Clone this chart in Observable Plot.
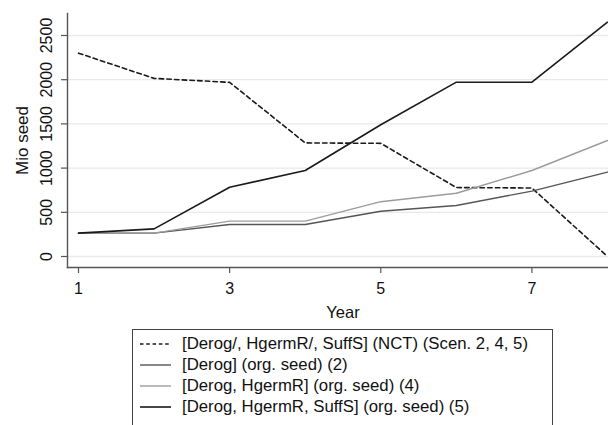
<!DOCTYPE html>
<html>
<head>
<meta charset="utf-8">
<script src="https://cdn.jsdelivr.net/npm/d3@7"></script>
<script src="https://cdn.jsdelivr.net/npm/@observablehq/plot@0.6"></script>
<style>
  html, body { margin: 0; padding: 0; background: #fff; overflow: hidden; width: 608px; height: 425px; }
  #wrap { position: relative; width: 608px; height: 425px; font-family: "Liberation Sans", Arial, sans-serif; }
  #chart svg { display: block; }
  #legend {
    position: absolute; left: 132px; top: 329px; width: 421px; height: 120px;
    border: 1px solid #444; box-sizing: border-box; padding: 3px 0 0 7px;
  }
  .row { height: 21px; display: flex; align-items: center; font-size: 16.75px; color: #111; white-space: nowrap; }
  .row svg { width: 31px; height: 10px; margin-right: 11px; flex: none; }
</style>
</head>
<body>
<div id="wrap">
  <div id="chart"></div>
  <div id="legend"></div>
</div>
<script>
const years = [1, 2, 3, 4, 5, 6, 7, 8];
const nct = [2300, 2015, 1970, 1285, 1280, 780, 775, 0];
const derog = [264, 264, 362, 362, 512, 577, 740, 955];
const derogHgerm = [264, 264, 400, 400, 620, 716, 973, 1312];
const derogHgermSuff = [264, 313, 784, 973, 1490, 1972, 1972, 2650];
const seriesLabels = [
  "[Derog/, HgermR/, SuffS] (NCT) (Scen. 2, 4, 5)",
  "[Derog] (org. seed) (2)",
  "[Derog, HgermR] (org. seed) (4)",
  "[Derog, HgermR, SuffS] (org. seed) (5)"
];
const yTicks = [0, 500, 1000, 1500, 2000, 2500];
const xTicks = [1, 3, 5, 7];
const xLabel = "Year";
const yLabel = "Mio seed";

const seriesValues = [nct, derog, derogHgerm, derogHgermSuff];
const styles = [
  {stroke: "#1a1a1a", strokeWidth: 1.6, dash: "4.5,3.2"},
  {stroke: "#555555", strokeWidth: 1.4, dash: null},
  {stroke: "#9c9c9c", strokeWidth: 1.4, dash: null},
  {stroke: "#1a1a1a", strokeWidth: 1.6, dash: null}
];

const rows = [];
seriesValues.forEach((vals, s) => {
  vals.forEach((v, i) => rows.push({series: seriesLabels[s], year: years[i], value: v}));
});

const lineMarks = seriesLabels.map((lab, s) =>
  Plot.line(rows.filter(d => d.series === lab), {
    x: "year", y: "value",
    stroke: styles[s].stroke, strokeWidth: styles[s].strokeWidth,
    strokeDasharray: styles[s].dash || undefined
  })
);

const chart = Plot.plot({
  width: 608, height: 325,
  marginLeft: 67, marginRight: 0, marginTop: 13, marginBottom: 58,
  x: {domain: [1, 8], range: [78, 607]},
  y: {domain: [0, 2500], range: [256, 35]},
  style: {fontFamily: "'Liberation Sans', Arial, sans-serif", fontSize: "16px", color: "#111", background: "white", overflow: "visible"},
  marks: [
    Plot.gridY(yTicks, {stroke: "#e9e9e9", strokeOpacity: 1, strokeWidth: 1.3}),
    Plot.axisY(yTicks, {tickSize: 6, tickFormat: () => "", label: null, stroke: "#555", strokeWidth: 1.2}),
    Plot.text(yTicks, {y: d => d, text: d => String(d), frameAnchor: "left", dx: -16, rotate: -90, lineAnchor: "bottom", textAnchor: "middle", fontSize: 16, fill: "#111"}),
    Plot.axisX(xTicks, {tickSize: 6, tickPadding: 9, label: null, stroke: "#555", strokeWidth: 1.2, fontSize: 16, fill: "#111"}),
    Plot.frame({anchor: "left", stroke: "#555", strokeWidth: 1.4}),
    Plot.frame({anchor: "bottom", stroke: "#555", strokeWidth: 1.4}),
    Plot.text([xLabel], {text: d => d, frameAnchor: "bottom", dx: 5, dy: 45, lineAnchor: "middle", fontSize: 16.5, fill: "#111"}),
    Plot.text([yLabel], {text: d => d, frameAnchor: "left", dx: -40, rotate: -90, lineAnchor: "bottom", textAnchor: "middle", fontSize: 17, fill: "#111"}),
    ...lineMarks
  ]
});
document.getElementById("chart").appendChild(chart);

const legend = document.getElementById("legend");
seriesLabels.forEach((lab, s) => {
  const row = document.createElement("div");
  row.className = "row";
  const st = styles[s];
  row.innerHTML = `<svg viewBox="0 0 31 10"><line x1="0" y1="5" x2="31" y2="5" stroke="${st.stroke}" stroke-width="${st.strokeWidth}" ${st.dash ? `stroke-dasharray="3.5,2.8"` : ""}/></svg><span></span>`;
  row.querySelector("span").textContent = lab;
  legend.appendChild(row);
});
</script>
</body>
</html>
